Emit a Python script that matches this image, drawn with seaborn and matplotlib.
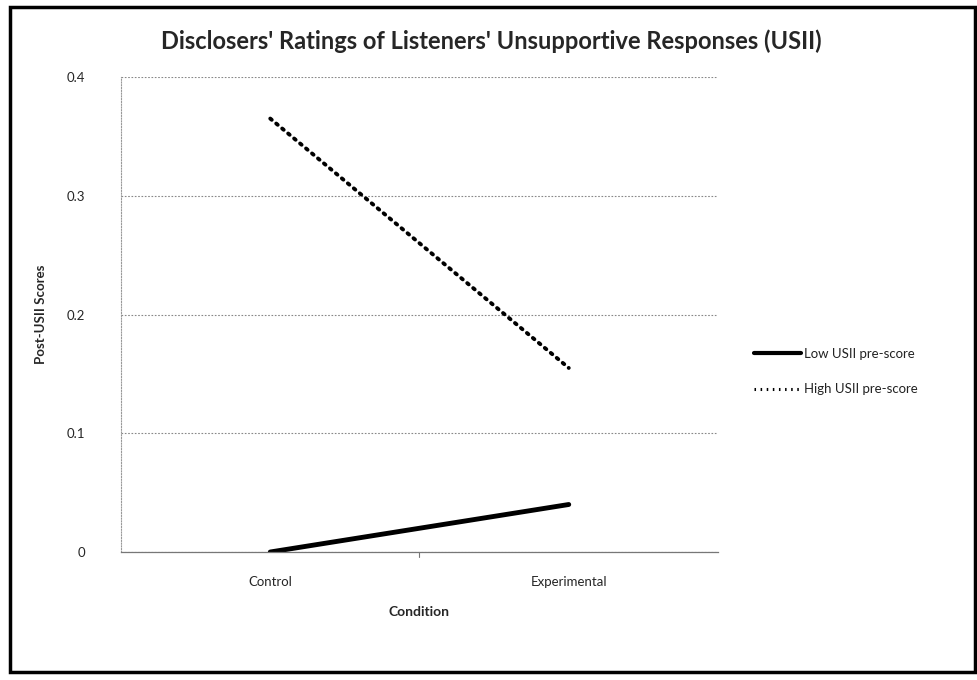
import matplotlib
matplotlib.use("Agg")
import matplotlib.pyplot as plt
import seaborn as sns
import pandas as pd
from matplotlib.patches import Rectangle

conditions = ["Control", "Experimental"]
low_scores = [0.0, 0.04]
high_scores = [0.365, 0.155]
groups = ["Low USII pre-score", "High USII pre-score"]
y_ticks = [0, 0.1, 0.2, 0.3, 0.4]
y_tick_labels = ["0", "0.1", "0.2", "0.3", "0.4"]

df = pd.DataFrame({
    "Condition": conditions * 2,
    "Score": low_scores + high_scores,
    "Group": [groups[0]] * 2 + [groups[1]] * 2,
})

sns.set_style("white")
plt.rcParams["font.family"] = ["Lato", "DejaVu Sans"]

fig = plt.figure(figsize=(9.78, 6.8), dpi=100)
ax = fig.add_axes([121 / 978, 1 - 552 / 680, (718 - 121) / 978, (552 - 77) / 680])

sns.lineplot(data=df, x="Condition", y="Score", hue="Group", style="Group",
             palette=["black", "black"], dashes={groups[0]: "", groups[1]: (0.5, 1.5)},
             sort=False, ax=ax, legend=True)
lines = ax.get_lines()
lines[0].set_linewidth(3.5)
lines[0].set_solid_capstyle("round")
lines[1].set_linewidth(2.8)
lines[1].set_dash_capstyle("round")

ax.set_xlim(-0.5, 1.5)
ax.set_ylim(0, 0.4)
ax.set_yticks(y_ticks)
ax.set_yticklabels(y_tick_labels, fontsize=9.5)
ax.set_xticks([0, 1])
ax.set_xticklabels(conditions, fontsize=9.5)
ax.tick_params(axis="x", length=0, pad=17)
ax.tick_params(axis="y", length=0, pad=26)

ax.yaxis.grid(True, color="#888888", linestyle=(0, (1.5, 1.5)), linewidth=0.8)
for side in ["top", "right"]:
    ax.spines[side].set_visible(False)
ax.spines["left"].set_color("#999999")
ax.spines["left"].set_linestyle((0, (1, 1.5)))
ax.spines["left"].set_linewidth(0.8)
ax.spines["bottom"].set_color("#777777")
ax.spines["bottom"].set_linestyle((0, (1.5, 1)))
ax.spines["bottom"].set_linewidth(0.9)
ax.plot([0.5, 0.5], [0, -0.004], color="#777777", lw=0.8, clip_on=False)

ax.set_xlabel("Condition", fontsize=10, fontweight="bold", labelpad=13)
ax.set_ylabel("Post-USII Scores", fontsize=9.5, fontweight="bold", labelpad=14)

ax.set_title("Disclosers' Ratings of Listeners' Unsupportive Responses (USII)",
             fontsize=17, fontweight="bold", pad=20, x=0.62)

leg = ax.legend(loc="center left", bbox_to_anchor=(1.04, 0.38), frameon=False,
                fontsize=9.5, handlelength=3.6, handletextpad=0.2, labelspacing=1.8)
for h in leg.get_lines():
    h.set_color("black")
leg.get_lines()[0].set_linewidth(3)
leg.get_lines()[1].set_linewidth(2.2)
for t in leg.get_texts():
    t.set_color("#222222")

fig.patches.append(Rectangle((10 / 978, 8 / 680), 965 / 978, 665 / 680,
                             transform=fig.transFigure, fill=False,
                             edgecolor="black", linewidth=2.5))

fig.savefig("out.png", dpi=100)
